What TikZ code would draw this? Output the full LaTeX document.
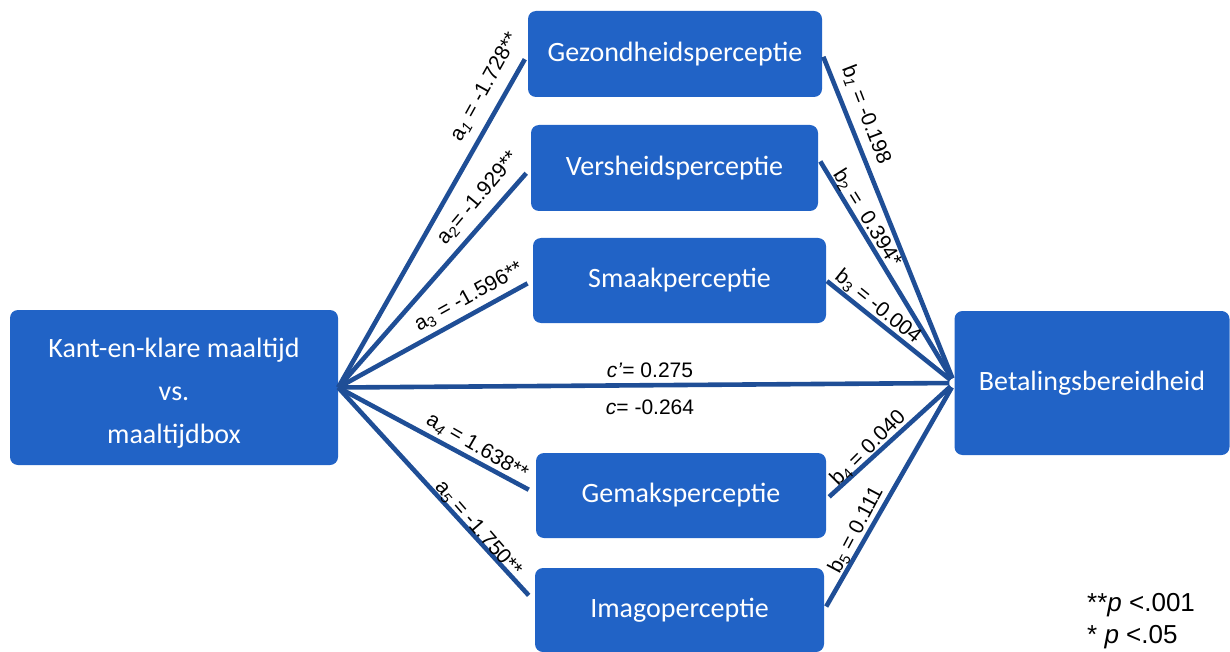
\documentclass[tikz,border=0pt]{standalone}
\usepackage{fontspec}
\setmainfont{Liberation Sans}
\newfontfamily\boxfont{Carlito}

\definecolor{boxblue}{HTML}{2163C6}
\definecolor{lineblue}{HTML}{1F4E96}

\tikzset{
  box/.style={fill=boxblue, rounded corners=8pt, text=white, inner sep=0pt,
    align=center, font=\boxfont\fontsize{28}{43}\selectfont},
  link/.style={lineblue, line width=4.6pt},
  lbl/.style={font=\fontsize{21}{23}\selectfont, inner sep=0pt},
}

\begin{document}
\begin{tikzpicture}[x=1pt,y=-1pt]
    \useasboundingbox (0,0) rectangle (1230,652);
    %blokken
    \node[box, minimum width=328pt, minimum height=155pt] (maaltijd) at (174,387.5)
        {\strut Kant-en-klare maaltijd\\vs.\\maaltijdbox};
    \node[box, minimum width=275pt, minimum height=144pt] (betaling) at (1092,383) {Betalingsbereidheid};
    \node[box, minimum width=294pt, minimum height=86pt] (gez) at (675,54) {Gezondheidsperceptie};
    \node[box, minimum width=287pt, minimum height=86pt] (vers) at (674.5,168) {Versheidsperceptie};
    \node[box, minimum width=293pt, minimum height=85pt] (smaak) at (679.5,280.5) {Smaakperceptie};
    \node[box, minimum width=290pt, minimum height=85pt] (gemak) at (681,495.5) {Gemaksperceptie};
    \node[box, minimum width=289pt, minimum height=84pt] (imago) at (679.5,610) {Imagoperceptie};

    %a-paden
    \draw[link, shorten >=6pt] (maaltijd.east) -- (gez.west);
    \draw[link, shorten >=7pt] (maaltijd.east) -- (vers.west);
    \draw[link, shorten >=6pt] (maaltijd.east) -- (smaak.west);
    \draw[link, shorten >=8pt] (maaltijd.east) -- ([yshift=2pt]gemak.west);
    \draw[link, shorten >=9pt] (maaltijd.east) -- ([yshift=8pt]imago.west);
    %b-paden
    \draw[link, shorten <=3pt, shorten >=5pt] (gez.east) -- (betaling.west);
    \draw[link, shorten <=4pt, shorten >=5pt] ([yshift=10pt]vers.east) -- (betaling.west);
    \draw[link, shorten <=1pt, shorten >=5pt] (smaak.east) -- (betaling.west);
    \draw[link, shorten <=4pt, shorten >=5pt] ([yshift=-4pt]gemak.east) -- (betaling.west);
    \draw[link, shorten <=4pt, shorten >=5pt] (imago.east) -- (betaling.west);
    %direct
    \draw[link, shorten >=5pt] (maaltijd.east) -- (betaling.west);

    %coefficienten
    \node[lbl, rotate=61] (la1) at (485,87) {a\textsubscript{\textit{1}} = -1.728**};
    \node[lbl, rotate=50] (la2) at (478,198) {a\textsubscript{2}= -1.929**};
    \node[lbl, rotate=29] (la3) at (469,297) {a\textsubscript{3} = -1.596**};
    \node[lbl, rotate=-30] (la4) at (477,447) {a\textsubscript{\textit{4}} = 1.638**};
    \node[lbl, rotate=-49] (la5) at (478,529) {a\textsubscript{\textit{5}} = -1.750**};
    \node[lbl, rotate=-69] (lb1) at (866,115) {b\textsubscript{\textit{1}} = -0.198};
    \node[lbl, rotate=-58] (lb2) at (867,218) {b\textsubscript{2} =\ \ 0.394*};
    \node[lbl, rotate=-39] (lb3) at (878,307) {b\textsubscript{3} = -0.004};
    \node[lbl, rotate=45] (lb4) at (868,448) {b\textsubscript{4} = 0.040};
    \node[lbl, rotate=62] (lb5) at (856,530) {b\textsubscript{5} = 0.111};
    \node[lbl] (lc1) at (650,370) {\textit{c'}= 0.275};
    \node[lbl] (lc) at (650,407) {\textit{c}= -0.264};

    %legenda
    \node[lbl, anchor=west, font=\fontsize{26}{28}\selectfont] (p1) at (1087,605) {**\textit{p} <.001};
    \node[lbl, anchor=west, font=\fontsize{26}{28}\selectfont] (p2) at (1087,637) {* \textit{p} <.05};
\end{tikzpicture}
\end{document}
